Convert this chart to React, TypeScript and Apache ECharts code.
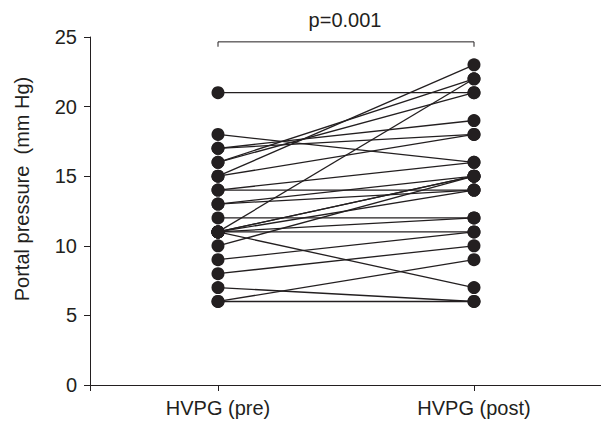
import React, { useEffect, useRef } from "react";
import * as echarts from "echarts";

const categories = ["HVPG (pre)", "HVPG (post)"];
const preValues = [21, 18, 17, 17, 16, 16, 15, 15, 14, 14, 13, 13, 12, 11, 11, 11, 11, 11, 11, 11, 10, 9, 8, 7, 6, 6];
const postValues = [21, 16, 19, 18, 22, 21, 23, 18, 16, 14, 15, 14, 12, 22, 15, 15, 14, 12, 11, 7, 15, 11, 10, 6, 9, 6];
const yTicks = [0, 5, 10, 15, 20, 25];
const pLabel = "p=0.001";
const yTitle = "Portal pressure  (mm Hg)";

const INK = "#231f20";
const FONT = "Liberation Sans, Arial, sans-serif";
const FS = 20;

export default function App() {
  const ref = useRef<HTMLDivElement>(null);
  useEffect(() => {
    if (!ref.current) return;
    const chart = echarts.init(ref.current, undefined, { renderer: "svg" });
    const pairSeries = preValues.map((pre, i) => ({
      type: "line",
      data: [[1, pre], [3, postValues[i]]],
      symbol: "circle",
      symbolSize: 13,
      itemStyle: { color: INK },
      lineStyle: { color: INK, width: 1.3 },
      z: 3,
      silent: true,
    }));
    const bracket = {
      type: "line",
      data: [[1, 24.3], [1, 24.65], [3, 24.65], [3, 24.3]],
      symbol: "none",
      lineStyle: { color: INK, width: 1 },
      silent: true,
    };
    chart.setOption({
      animation: false,
      grid: { left: 82, right: 7, top: 29, bottom: 44 },
      xAxis: {
        type: "value",
        min: 0,
        max: 4,
        splitLine: { show: false },
        axisLine: { show: true, lineStyle: { color: INK, width: 1 } },
        axisTick: { show: true, customValues: [0, 1, 3, 4], length: 6, lineStyle: { color: INK } },
        axisLabel: {
          customValues: [1, 3],
          formatter: (v: number) => (v === 1 ? categories[0] : categories[1]),
          color: INK,
          fontFamily: FONT,
          fontSize: FS,
          margin: 13,
        },
      },
      yAxis: {
        type: "value",
        min: yTicks[0],
        max: yTicks[yTicks.length - 1],
        interval: 5,
        splitLine: { show: false },
        axisLine: { show: true, lineStyle: { color: INK, width: 1 } },
        axisTick: { show: true, length: 6, lineStyle: { color: INK } },
        axisLabel: { color: INK, fontFamily: FONT, fontSize: FS, margin: 13 },
      },
      graphic: [
        {
          type: "text",
          x: 337,
          y: 12,
          style: {
            text: pLabel,
            fill: INK,
            font: `${FS}px ${FONT}`,
            textAlign: "center",
            textVerticalAlign: "middle",
          },
        },
        {
          type: "text",
          x: 14,
          y: 181,
          rotation: Math.PI / 2,
          style: {
            text: yTitle,
            fill: INK,
            font: `${FS}px ${FONT}`,
            textAlign: "center",
            textVerticalAlign: "middle",
          },
        },
      ],
      series: [...pairSeries, bracket],
    });
    return () => chart.dispose();
  }, []);
  return <div ref={ref} style={{ width: 601, height: 421 }} />;
}
